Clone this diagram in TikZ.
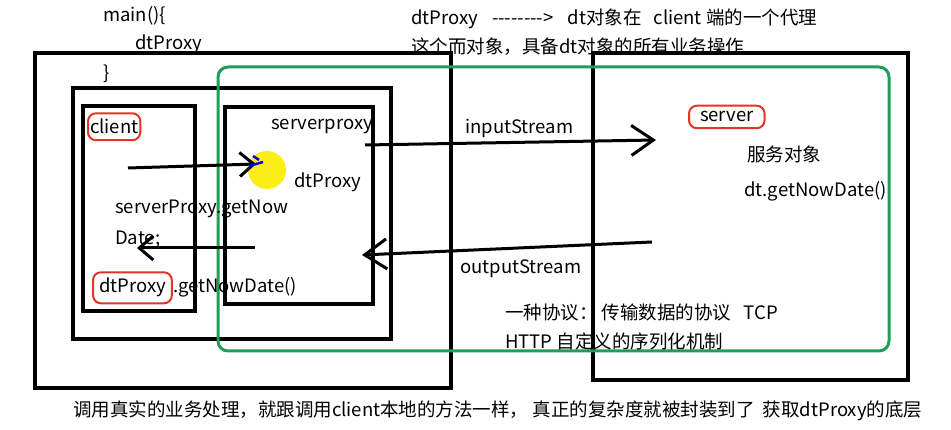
\documentclass[tikz,border=0pt]{standalone}
\usepackage{fontspec}
\setmainfont{Noto Sans CJK SC}[Ligatures=TeXOff]
\usetikzlibrary{arrows.meta}

\definecolor{linegreen}{RGB}{32,158,88}
\definecolor{tagred}{RGB}{228,52,40}
\definecolor{hilite}{RGB}{250,238,20}

\tikzset{
  box/.style={line width=3.5pt},
  tag/.style={draw=tagred,line width=2pt,rounded corners=8pt,inner xsep=3pt,inner ysep=6pt},
  txt/.style={anchor=base west,inner sep=0pt,font=\fontsize{18.5}{22}\selectfont},
  hand/.style={line width=3pt,-{Straight Barb[length=22pt,width=30pt,line width=3pt]}},
  handsmall/.style={line width=3pt,-{Straight Barb[length=14pt,width=24pt,line width=3pt]}},
}

\begin{document}
\begin{tikzpicture}[x=1pt,y=-1pt]
\path[use as bounding box,fill=white] (0,0) rectangle (951,430);
% boxes
\draw[box] (35,53) rectangle (451,388);
\draw[box] (73,88) rectangle (391,339);
\draw[box] (83,106) rectangle (195,311);
\draw[box] (225,107) rectangle (373,304);
\draw[box] (593,53) rectangle (908,380);
\draw[line width=3pt,linegreen,rounded corners=10pt] (218,67) rectangle (889,351);
% top notes
\node[txt] (main) at (103,22) {main()\{};
\node[txt] (mainproxy) at (135,50) {dtProxy};
\node[txt] (mainend) at (103,80) {\}};
\node[txt] (note1) at (411,25) {dtProxy\hspace{14pt}-------->\hspace{14pt}dt对象在\hspace{12pt}client 端的一个代理};
\node[txt] (note2) at (411,54) {这个而对象，具备dt对象的所有业务操作};
% client side
\node[txt,tag,inner xsep=2pt] (client) at (87,134) {client};
\node[txt] (sproxy) at (271,130) {serverproxy};
\node[txt] (proxyobj) at (294,188) {dtProxy};
\node[txt] (call1) at (115,214) {serverProxy.getNow};
\node[txt] (call2) at (115,245) {Date;};
\node[txt,tag,inner xsep=6pt] (dtp) at (92,293) {dtProxy};
\node[txt] (dtcall) at (dtp.base east) {.getNowDate()};
% server side
\node[txt,tag,inner xsep=11pt] (server) at (688,122) {server};
\node[txt] (service) at (747,162) {服务对象};
\node[txt] (dtcall2) at (744,197) {dt.getNowDate()};
\node[txt] (instream) at (465,134) {inputStream};
\node[txt] (outstream) at (460,274) {outputStream};
\node[txt] (proto1) at (505,320) {一种协议：\ 传输数据的协议\ \ \ TCP};
\node[txt] (proto2) at (505,349) {HTTP 自定义的序列化机制};
\node[txt] (summary) at (73,417) {调用真实的业务处理，就跟调用client本地的方法一样，\ 真正的复杂度就被封装到了\ \ 获取dtProxy的底层};
% arrows
\fill[hilite] (267,170) circle (19);
\coordinate (c1) at (128,168);
\coordinate (c2) at (256,164);
\coordinate (b1) at (255,248);
\coordinate (b2) at (137,248);
\coordinate (i1) at (365,145);
\coordinate (i2) at (656,140);
\coordinate (o1) at (652,242);
\coordinate (o2) at (362,255);
\draw[handsmall] (c1) -- (c2);
\draw[blue,line width=2.5pt] (249,166) -- (263,162);
\draw[blue,line width=2.5pt] (253,156) -- (259,160);
\draw[handsmall] (b1) -- (b2);
\draw[hand] (i1) -- (i2);
\draw[hand] (o1) -- (o2);
\end{tikzpicture}
\end{document}
